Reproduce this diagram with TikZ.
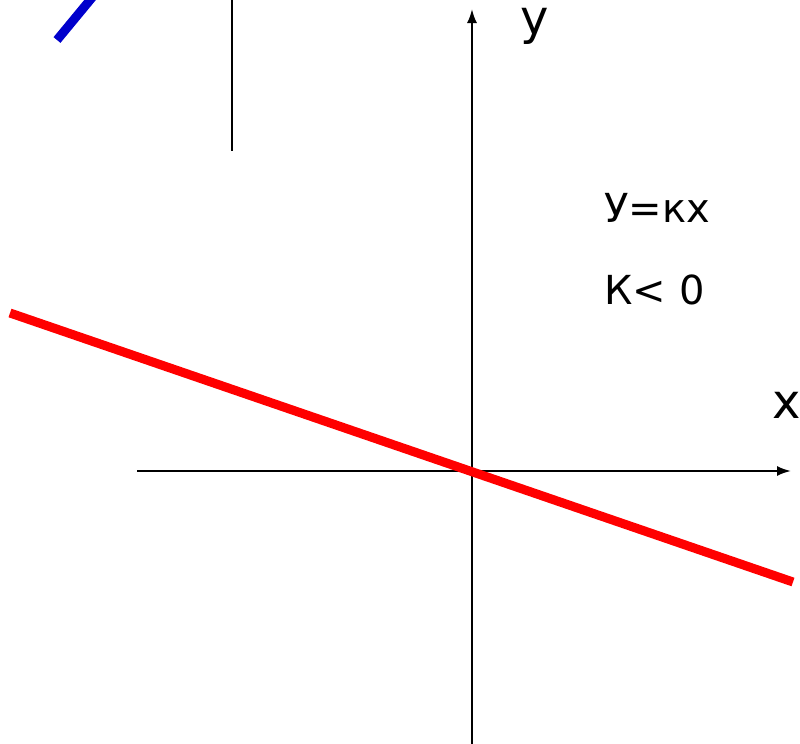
\documentclass[tikz,border=0pt]{standalone}
\usepackage{fontspec}
\setmainfont{DejaVu Sans}
\usetikzlibrary{arrows.meta}

\begin{document}
\begin{tikzpicture}[
    x=0.5pt, y=-0.5pt,
    >={Latex[length=7pt,width=5pt]},
    axis/.style={line width=1pt, ->},
    graph/.style={line width=4.5pt, draw=red},
    lab/.style={inner sep=0pt, font=\fontsize{24}{28}\selectfont},
    txt/.style={inner sep=0pt, anchor=west, font=\fontsize{20}{24}\selectfont}
]
\clip (0,0) rectangle (800,744);
\useasboundingbox (0,0) rectangle (800,744);

% axes
\coordinate (xl) at (137,471);
\coordinate (xr) at (791,471);
\coordinate (yb) at (472,744);
\coordinate (yt) at (472,9);
\draw[axis] (xl) -- (xr);
\draw[axis] (yb) -- (yt);

\node[lab] (ylab) at (535,26) {y};
\node[lab] (xlab) at (787,405) {x};

% the line y = kx
\coordinate (r1) at (10,313);
\coordinate (r2) at (793,582);
\draw[graph] (r1) -- (r2);

% labels
\node[txt] (eq)  at (604,208) {У=кх};
\node[txt] (cnd) at (604,290) {К< 0};

% fragments at the top
\coordinate (b1) at (57,40);
\coordinate (b2) at (95,-6);
\draw[line width=4.5pt, draw=blue!80!black] (b1) -- (b2);
\coordinate (v1) at (232,0);
\coordinate (v2) at (232,151);
\draw[line width=1pt] (v1) -- (v2);
\end{tikzpicture}
\end{document}
